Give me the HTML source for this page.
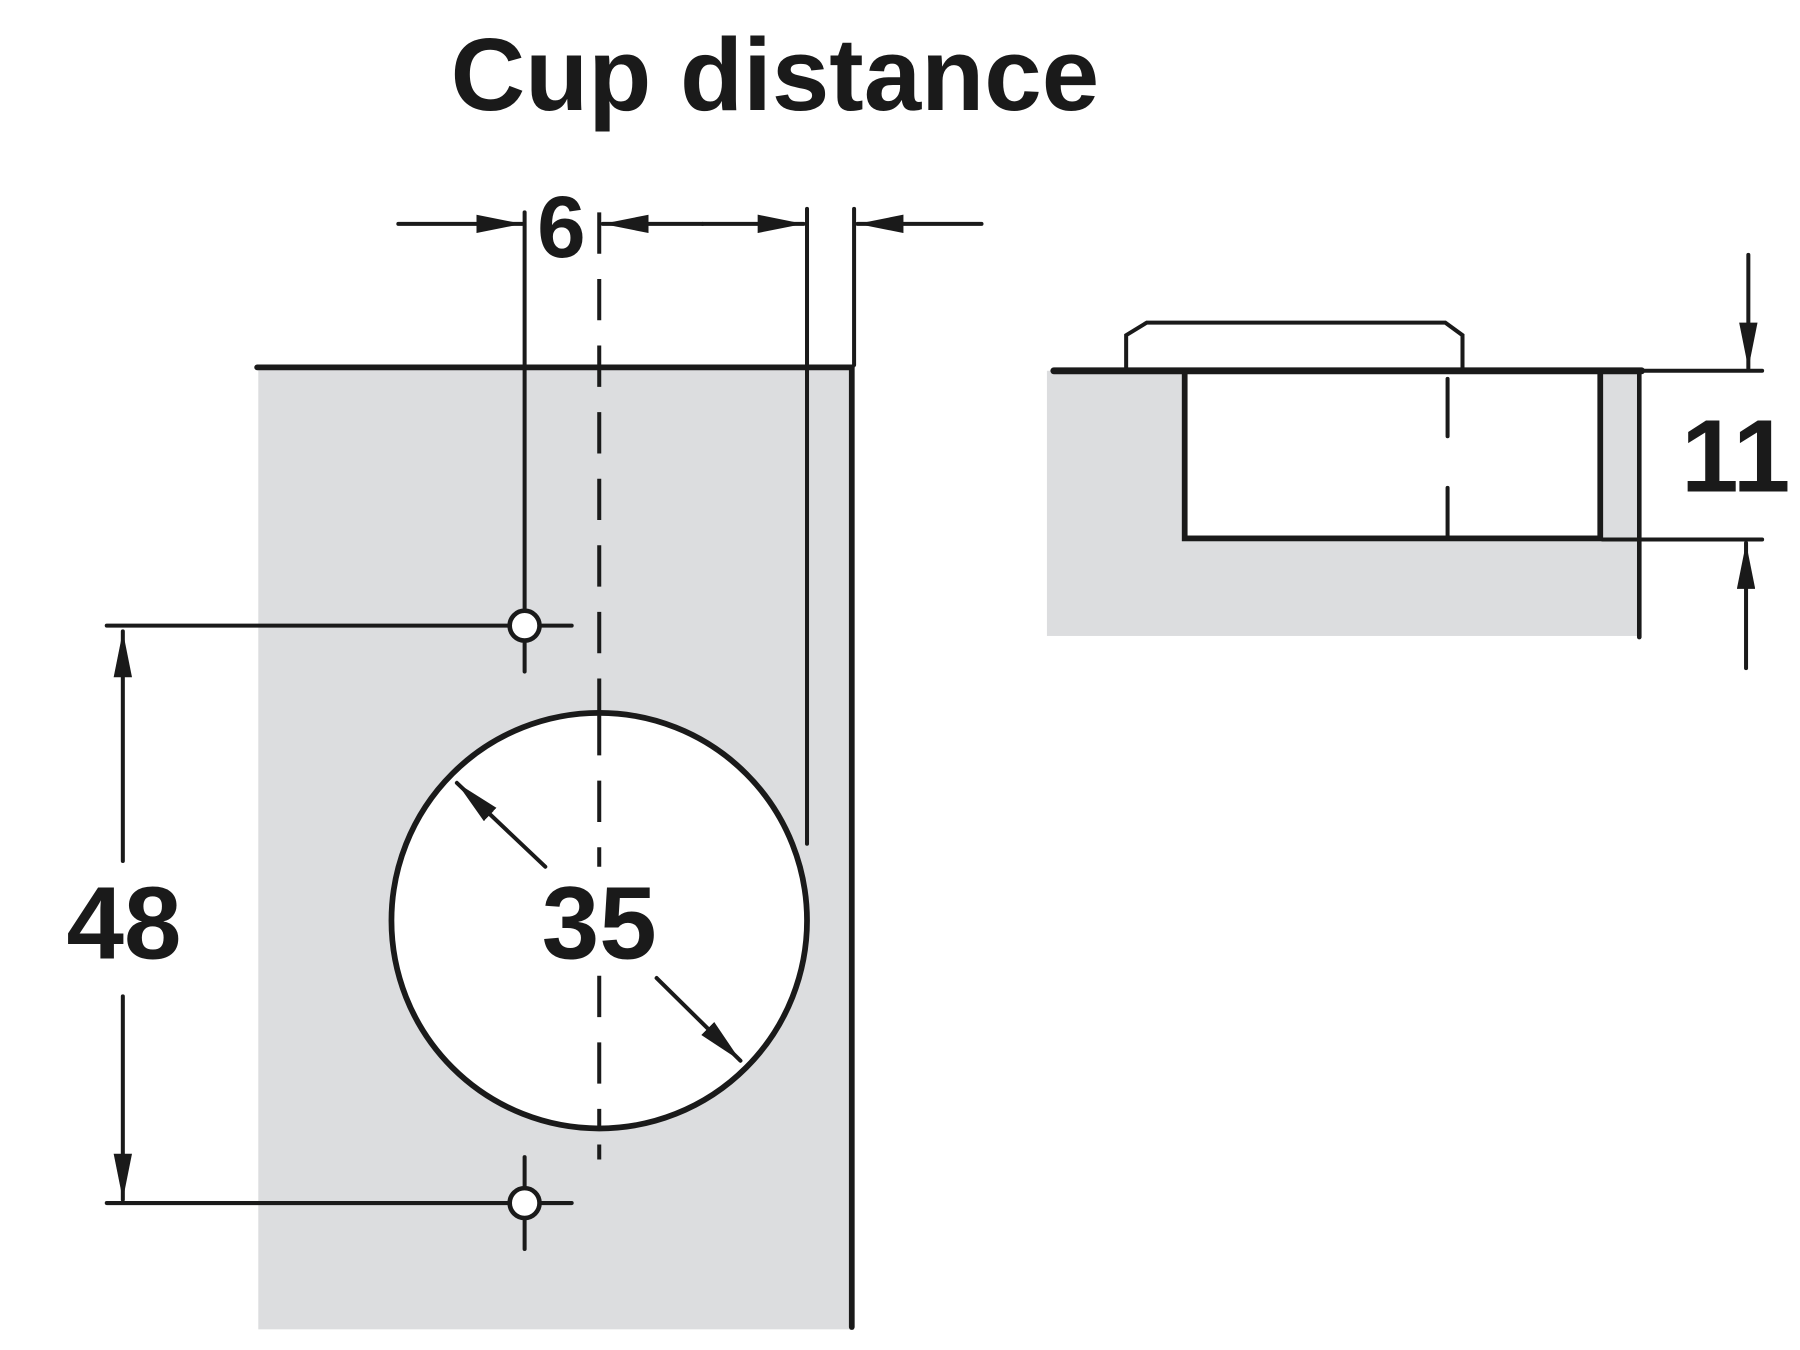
<!DOCTYPE html>
<html><head><meta charset="utf-8"><style>html,body{margin:0;padding:0;background:#fff}svg{display:block}</style></head>
<body>
<svg width="1800" height="1350" viewBox="0 0 1568 1176" preserveAspectRatio="none" xmlns="http://www.w3.org/2000/svg">
<defs>
<marker id="a" viewBox="0 0 40 16" refX="40" refY="8" markerWidth="40" markerHeight="16" markerUnits="userSpaceOnUse" orient="auto"><path d="M0,0 L40,8 L0,16 Z" fill="#1a1a1a"/></marker>
</defs>
<rect x="225" y="320" width="516" height="838" fill="#dcdddf"/>
<g stroke="#1a1a1a" fill="none" stroke-linecap="round">
<line x1="224" y1="320" x2="742" y2="320" stroke-width="5"/>
<line x1="742" y1="320" x2="742" y2="1156" stroke-width="5"/>
<line x1="457" y1="185" x2="457" y2="530" stroke-width="3.5"/>
<line x1="522" y1="185" x2="522" y2="1010" stroke-width="3.5" stroke-dasharray="36,22" stroke-linecap="butt"/>
<line x1="703" y1="182" x2="703" y2="735" stroke-width="3.5"/>
<line x1="744" y1="182" x2="744" y2="318" stroke-width="3.5"/>
<line x1="347" y1="195" x2="455" y2="195" stroke-width="3.5" marker-end="url(#a)"/>
<line x1="612" y1="195" x2="525" y2="195" stroke-width="3.5" marker-end="url(#a)"/>
<line x1="612" y1="195" x2="700" y2="195" stroke-width="3.5" marker-end="url(#a)"/>
<line x1="855" y1="195" x2="747" y2="195" stroke-width="3.5" marker-end="url(#a)"/>
<line x1="93" y1="545" x2="498" y2="545" stroke-width="3.5"/>
<line x1="457" y1="545" x2="457" y2="585" stroke-width="3.5"/>
<line x1="93" y1="1048" x2="498" y2="1048" stroke-width="3.5"/>
<line x1="457" y1="1008" x2="457" y2="1088" stroke-width="3.5"/>
<circle cx="457" cy="545" r="13" fill="#fff" stroke-width="4"/>
<circle cx="457" cy="1048" r="13" fill="#fff" stroke-width="4"/>
<line x1="107" y1="750" x2="107" y2="550" stroke-width="3.5" marker-end="url(#a)"/>
<line x1="107" y1="868" x2="107" y2="1045" stroke-width="3.5" marker-end="url(#a)"/>
<circle cx="522" cy="802" r="181" fill="#fff" stroke-width="5"/>
<line x1="522" y1="622" x2="522" y2="755" stroke-width="3.5" stroke-dasharray="36,22" stroke-linecap="butt"/>
<line x1="522" y1="850" x2="522" y2="982" stroke-width="3.5" stroke-dasharray="36,22" stroke-linecap="butt"/>
<line x1="475" y1="755" x2="398" y2="682" stroke-width="3.5" marker-end="url(#a)"/>
<line x1="572" y1="852" x2="645" y2="924" stroke-width="3.5" marker-end="url(#a)"/>
</g>
<rect x="912" y="323" width="514" height="231" fill="#dcdddf"/>
<g stroke="#1a1a1a" fill="none" stroke-linecap="round">
<path d="M981,323 L981,292 L999,281 L1259,281 L1274,292 L1274,323" stroke-width="3.5"/>
<rect x="1032" y="323" width="362" height="146" fill="#fff" stroke-width="5"/>
<line x1="918" y1="323" x2="1430" y2="323" stroke-width="6"/>
<line x1="1428" y1="323" x2="1428" y2="555" stroke-width="4"/>
<line x1="1430" y1="323" x2="1535" y2="323" stroke-width="3.5"/>
<line x1="1396" y1="470" x2="1535" y2="470" stroke-width="3.5"/>
<line x1="1261" y1="330" x2="1261" y2="380" stroke-width="3.5"/>
<line x1="1261" y1="425" x2="1261" y2="468" stroke-width="3.5"/>
<line x1="1523" y1="222" x2="1523" y2="321" stroke-width="3.5" marker-end="url(#a)"/>
<line x1="1521" y1="582" x2="1521" y2="473" stroke-width="3.5" marker-end="url(#a)"/>
</g>
<g font-family="Liberation Sans, sans-serif" font-weight="bold" fill="#1a1a1a" text-anchor="middle">
<text x="675" y="96" font-size="90">Cup distance</text>
<text x="489" y="224" font-size="76">6</text>
<text x="108" y="835" font-size="90">48</text>
<text x="522" y="835" font-size="90">35</text>
<text x="1512" y="428" font-size="90">11</text>
</g>
</svg>
</body></html>
